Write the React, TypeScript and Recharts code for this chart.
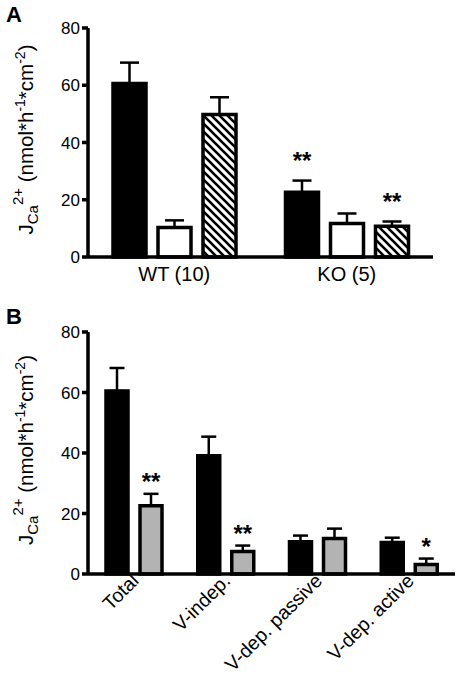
import { BarChart, Bar, XAxis, YAxis, ErrorBar, LabelList } from "recharts";

const FONT = "'Liberation Sans', Arial, Helvetica, sans-serif";

// Panel A
const groupsA = ["WT (10)", "KO (5)"];
const totalA = [60.6, 22.6];
const totalErrA = [7.3, 4.1];
const passiveA = [10.3, 11.7];
const passiveErrA = [2.5, 3.5];
const activeA = [49.8, 10.7];
const activeErrA = [6.0, 1.7];
const totalStarsA = ["", "**"];
const activeStarsA = ["", "**"];

// Panel B
const categoriesB = ["Total", "V-indep.", "V-dep. passive", "V-dep. active"];
const wtB = [60.5, 39.1, 10.7, 10.4];
const wtErrB = [7.6, 6.3, 2.0, 1.6];
const koB = [22.6, 7.4, 11.7, 3.1];
const koErrB = [3.9, 2.0, 3.3, 2.0];
const koStarsB = ["**", "**", "", "*"];

const yTicks = [0, 20, 40, 60, 80];

const dataA = groupsA.map((g, i) => ({
  group: g,
  total: totalA[i],
  totalErr: [0, totalErrA[i]],
  passive: passiveA[i],
  passiveErr: [0, passiveErrA[i]],
  active: activeA[i],
  activeErr: [0, activeErrA[i]],
}));

const dataB = categoriesB.map((c, i) => ({
  cat: c,
  wt: wtB[i],
  wtErr: [0, wtErrB[i]],
  ko: koB[i],
  koErr: [0, koErrB[i]],
}));

const starLabel =
  (stars: string[], vals: number[], errs: number[], lift: number) =>
  (props: any) => {
    const { x, y, width, height, index } = props;
    const s = stars[index];
    if (!s) return null;
    const pxPerUnit = height / vals[index];
    const top = y - errs[index] * pxPerUnit;
    return (
      <text
        x={x + width / 2}
        y={top - lift}
        textAnchor="middle"
        fontSize={24}
        fontWeight="bold"
        fontFamily={FONT}
      >
        {s}
      </text>
    );
  };

const YLabel = (props: any) => {
  const vb = props.viewBox;
  const cy = vb.y + vb.height / 2 - 3;
  return (
    <text
      transform={`translate(33,${cy}) rotate(-90)`}
      textAnchor="middle"
      fontSize={20.5}
      fontFamily={FONT}
    >
      J
      <tspan fontSize={15} dy={5}>
        Ca
      </tspan>
      <tspan fontSize={15} dy={-15}>
        2+
      </tspan>
      <tspan dy={10}> (nmol*h</tspan>
      <tspan fontSize={14} dy={-8}>
        -1
      </tspan>
      <tspan dy={8}>*cm</tspan>
      <tspan fontSize={14} dy={-8}>
        -2
      </tspan>
      <tspan dy={8}>)</tspan>
    </text>
  );
};

const GroupTick = ({ x, y, payload }: any) => (
  <text x={x} y={y} dy="0.71em" textAnchor="middle" fontSize={20} fontFamily={FONT}>
    {payload.value}
  </text>
);

const AngledTick = ({ x, y, payload }: any) => (
  <text
    x={x + 6}
    y={y}
    textAnchor="end"
    transform={`rotate(-45, ${x + 6}, ${y})`}
    fontSize={19.5}
    fontFamily={FONT}
  >
    {payload.value}
  </text>
);

const axisLine = { stroke: "#000", strokeWidth: 3.5 };
const tickStyle = { fontSize: 17, fontFamily: FONT, fill: "#000" };

export default function App() {
  return (
    <div
      style={{
        position: "absolute",
        left: 0,
        top: 0,
        width: 462,
        height: 691,
        background: "#fff",
        fontFamily: FONT,
      }}
    >
      <div style={{ position: "absolute", left: 6, top: 4, fontSize: 22, fontWeight: "bold", lineHeight: 1 }}>
        A
      </div>
      <div style={{ position: "absolute", left: 6, top: 306, fontSize: 22, fontWeight: "bold", lineHeight: 1 }}>
        B
      </div>

      <div style={{ position: "absolute", left: 0, top: 0 }}>
        <BarChart
          width={462}
          height={300}
          data={dataA}
          margin={{ top: 28, right: 29, left: 0, bottom: 0 }}
          barSize={33}
          barGap={12}
        >
          <defs>
            <pattern id="hatch" patternUnits="userSpaceOnUse" width={8} height={8}>
              <rect width={8} height={8} fill="#fff" />
              <path d="M-2,-2 L10,10 M-2,6 L2,10 M6,-2 L10,2" stroke="#000" strokeWidth={2.6} />
            </pattern>
          </defs>
          <XAxis
            dataKey="group"
            height={43}
            axisLine={axisLine}
            tickLine={false}
            tickSize={8}
            tickMargin={2}
            interval={0}
            tick={<GroupTick />}
          />
          <YAxis
            width={88}
            domain={[0, 80]}
            ticks={yTicks}
            axisLine={axisLine}
            tickLine={{ stroke: "#000", strokeWidth: 3.5 }}
            tickSize={6}
            tickMargin={2}
            tick={tickStyle}
            label={{ content: <YLabel /> }}
          />
          <Bar dataKey="total" fill="#000" stroke="#000" strokeWidth={3.5} isAnimationActive={false}>
            <ErrorBar dataKey="totalErr" width={9.5} strokeWidth={2.5} stroke="#000" />
            <LabelList content={starLabel(totalStarsA, totalA, totalErrA, 12)} />
          </Bar>
          <Bar dataKey="passive" fill="#fff" stroke="#000" strokeWidth={3.5} isAnimationActive={false}>
            <ErrorBar dataKey="passiveErr" width={9.5} strokeWidth={2.5} stroke="#000" />
          </Bar>
          <Bar dataKey="active" fill="url(#hatch)" stroke="#000" strokeWidth={3.5} isAnimationActive={false}>
            <ErrorBar dataKey="activeErr" width={9.5} strokeWidth={2.5} stroke="#000" />
            <LabelList content={starLabel(activeStarsA, activeA, activeErrA, 12)} />
          </Bar>
        </BarChart>
      </div>

      <div style={{ position: "absolute", left: 0, top: 290 }}>
        <BarChart
          width={462}
          height={401}
          data={dataB}
          margin={{ top: 42, right: 7, left: 0, bottom: 0 }}
          barSize={22}
          barGap={12}
        >
          <XAxis
            dataKey="cat"
            height={117}
            axisLine={axisLine}
            tickLine={false}
            tickSize={8}
            tickMargin={0}
            interval={0}
            tick={<AngledTick />}
          />
          <YAxis
            width={88}
            domain={[0, 80]}
            ticks={yTicks}
            axisLine={axisLine}
            tickLine={{ stroke: "#000", strokeWidth: 3.5 }}
            tickSize={6}
            tickMargin={2}
            tick={tickStyle}
            label={{ content: <YLabel /> }}
          />
          <Bar dataKey="wt" fill="#000" stroke="#000" strokeWidth={3.5} isAnimationActive={false}>
            <ErrorBar dataKey="wtErr" width={7.5} strokeWidth={2.5} stroke="#000" />
          </Bar>
          <Bar dataKey="ko" fill="#b3b3b3" stroke="#000" strokeWidth={3.5} isAnimationActive={false}>
            <ErrorBar dataKey="koErr" width={7.5} strokeWidth={2.5} stroke="#000" />
            <LabelList content={starLabel(koStarsB, koB, koErrB, 4)} />
          </Bar>
        </BarChart>
      </div>
    </div>
  );
}
